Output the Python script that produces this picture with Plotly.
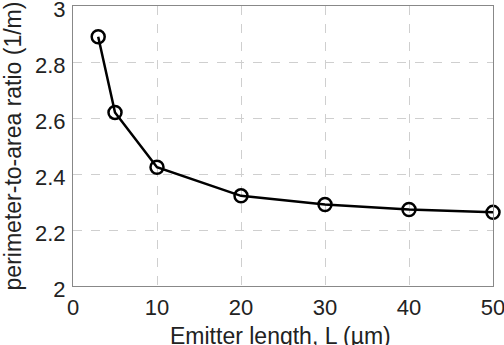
import plotly.graph_objects as go

lengths = [3, 5, 10, 20, 30, 40, 50]
ratios = [2.89, 2.62, 2.424, 2.322, 2.291, 2.273, 2.263]
x_ticks = [0, 10, 20, 30, 40, 50]
y_ticks = [2, 2.2, 2.4, 2.6, 2.8, 3]
y_tick_labels = ["2", "2.2", "2.4", "2.6", "2.8", "3"]
x_title = "Emitter length, L (µm)"
y_title = "perimeter-to-area ratio (1/m)"

fig = go.Figure(go.Scatter(
    x=lengths, y=ratios, mode="lines+markers",
    line=dict(color="black", width=2.5),
    marker=dict(symbol="circle-open", size=13, color="black", line=dict(width=2.5)),
    cliponaxis=False,
))

font = dict(family="Liberation Sans, Arial, sans-serif", size=22, color="#222")
title_font = dict(family="Liberation Sans, Arial, sans-serif", size=23, color="#222")
fig.update_layout(
    width=504, height=345,
    margin=dict(l=73, r=11, t=6, b=59, autoexpand=False),
    paper_bgcolor="white", plot_bgcolor="white",
    showlegend=False, font=font,
)
fig.add_annotation(
    text=x_title, xref="paper", yref="paper", x=0.495, y=0,
    xanchor="center", yanchor="middle", yshift=-50, showarrow=False,
    font=title_font,
)
fig.update_xaxes(
    range=[0, 50], tickvals=x_ticks, ticks="", showline=True, mirror=True,
    linecolor="#888", linewidth=1, showgrid=True, gridcolor="#cfcfcf",
    griddash="dash", gridwidth=1, zeroline=False, tickfont=font,
    ticklabeloverflow="allow", ticklabelstandoff=2, automargin=False,
)
fig.update_yaxes(
    range=[2, 3], tickvals=y_ticks, ticktext=y_tick_labels, ticks="",
    showline=True, mirror=True, linecolor="#888", linewidth=1,
    showgrid=True, gridcolor="#cfcfcf", griddash="dash", gridwidth=1,
    zeroline=False, tickfont=font, ticklabeloverflow="allow",
    ticklabelstandoff=2, ticklabelshift=3, automargin=False,
    title=dict(text=y_title, standoff=10, font=title_font),
)
fig.write_html("out.html")
